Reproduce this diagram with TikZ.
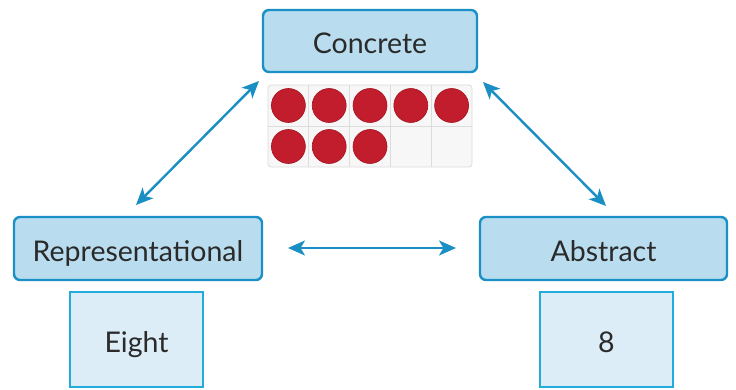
\documentclass[tikz,border=0pt]{standalone}
\usepackage{fontspec}
\setmainfont{Lato}
\usetikzlibrary{arrows.meta}
\definecolor{boxfill}{HTML}{B9DDEF}
\definecolor{boxline}{HTML}{1A90C6}
\definecolor{cardfill}{HTML}{DCEDF7}
\definecolor{cardline}{HTML}{22ACDB}
\definecolor{arrowcol}{HTML}{1A8FC4}
\definecolor{counter}{HTML}{C21D2C}
\definecolor{counteredge}{HTML}{A3121F}
\definecolor{frameline}{HTML}{DCDCDC}
\definecolor{cellfill}{HTML}{F7F7F7}
\definecolor{textcol}{HTML}{2A2A2A}
\tikzset{
  x=1pt, y=-1pt,
  label text/.style={text=textcol, font=\fontsize{28.5}{32}\selectfont,
    text height=25.5pt, text depth=0pt},
  stage/.style={draw=boxline, fill=boxfill, line width=2.4pt, rounded corners=6pt,
    inner sep=0pt, label text},
  card/.style={draw=cardline, fill=cardfill, line width=2.2pt,
    inner sep=0pt, label text},
  link/.style={draw=arrowcol, line width=2.4pt,
    {Stealth[length=17pt,width=15pt,inset=4.5pt]}-{Stealth[length=17pt,width=15pt,inset=4.5pt]}},
  chip/.style={circle, fill=counter, draw=counteredge, line width=0.6pt,
    minimum size=34pt, inner sep=0pt},
}
\begin{document}
\begin{tikzpicture}
\useasboundingbox (0,0) rectangle (736,390);
\fill[white] (0,0) rectangle (736,390);

% the three stages
\node[stage, minimum width=214pt, minimum height=62pt] (con) at (370,41) {Concrete};
\node[stage, minimum width=248pt, minimum height=63pt] (rep) at (138,248.5) {Representational};
\node[stage, minimum width=247pt, minimum height=63pt] (abs) at (603.5,248.5) {Abstract};

% example cards
\node[card, minimum width=133pt, minimum height=95pt] (eight) at (136.5,339.5) {Eight};
\node[card, minimum width=133pt, minimum height=95pt] (num) at (606.5,339.5) {8};

% ten frame with eight counters
\node[draw=frameline, fill=cellfill, line width=0.8pt, rounded corners=3pt,
  minimum width=204pt, minimum height=82pt, inner sep=0pt] (frame) at (370,126) {};
\foreach \i in {1,...,4}
  \draw[frameline, line width=0.8pt] (268+\i*40.8,85) -- (268+\i*40.8,167);
\draw[frameline, line width=0.8pt] (268,126) -- (472,126);
\foreach \i in {0,...,4}
  \node[chip] (top\i) at (288.4+\i*40.8,105.5) {};
\foreach \i in {0,...,2}
  \node[chip] (bot\i) at (288.4+\i*40.8,146.5) {};

% connectors between stages
\coordinate (cl) at (259,81);
\coordinate (rt) at (136,205);
\coordinate (cr) at (483,82);
\coordinate (at) at (606,206);
\coordinate (rr) at (288,248);
\coordinate (al) at (456,248);
\draw[link] (cl) -- (rt);
\draw[link] (cr) -- (at);
\draw[link] (rr) -- (al);
\end{tikzpicture}
\end{document}
